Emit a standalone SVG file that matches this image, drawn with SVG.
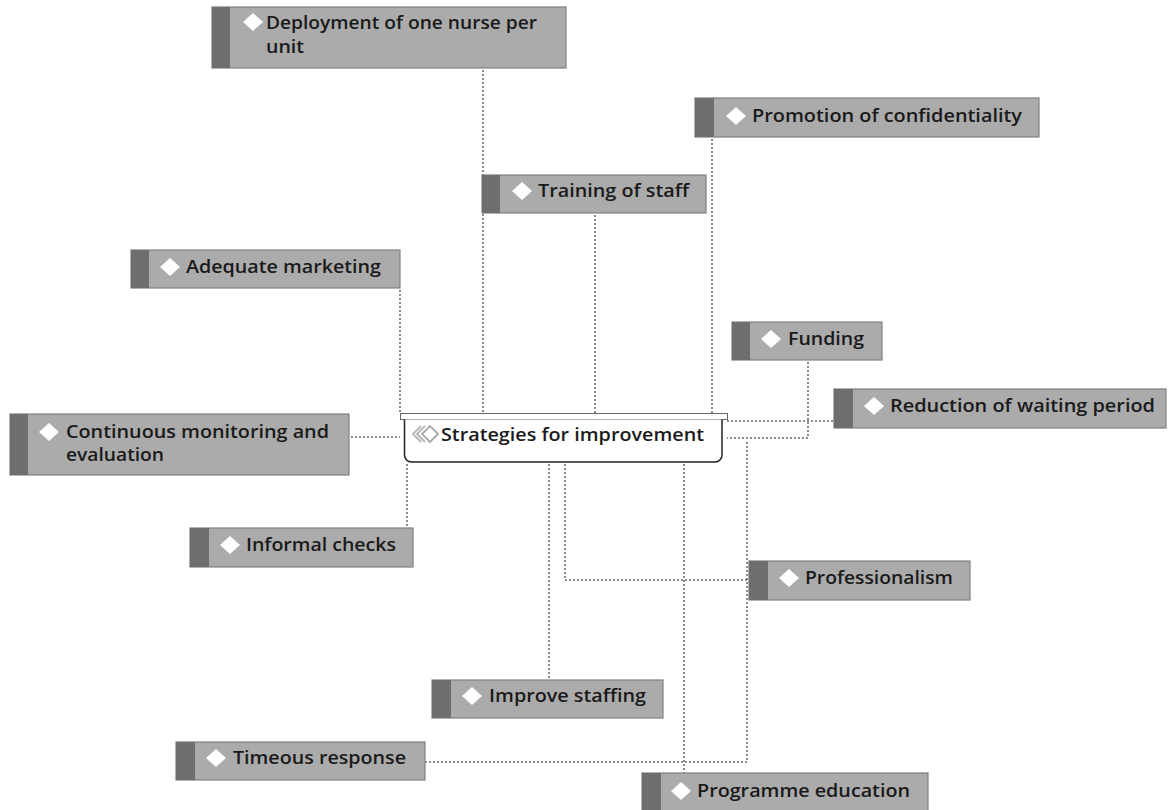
<svg xmlns="http://www.w3.org/2000/svg" width="1168" height="810" viewBox="0 0 1168 810">
<defs>
<style>
.box{fill:#ababab;stroke:#808080;stroke-width:1.2}
.strip{fill:#6e6e6e}
.dia{fill:#ffffff}
.t{font-family:"Open Sans","Liberation Sans",sans-serif;font-size:18px;font-weight:600;fill:#1a1a1a}
.c{fill:none;stroke:#666;stroke-width:1.5;stroke-dasharray:2 2}
</style>
</defs>
<rect width="1168" height="810" fill="#ffffff"/>
<g id="connectors">
<path class="c" d="M483 70V413"/>
<path class="c" d="M712 139V413"/>
<path class="c" d="M595 215V413"/>
<path class="c" d="M400 290V413"/>
<path class="c" d="M808 362V438H727"/>
<path class="c" d="M727 421H834"/>
<path class="c" d="M351 437H400"/>
<path class="c" d="M407 464V528"/>
<path class="c" d="M565 464V580H749"/>
<path class="c" d="M549 464V680"/>
<path class="c" d="M684 464V773"/>
<path class="c" d="M747 442V762H425"/>
</g>
<g id="center">
<rect x="400.5" y="413.5" width="327" height="6" fill="#fff" stroke="#666" stroke-width="1"/>
<path d="M404.5 419.5V455a7 7 0 0 0 7 7H715a7 7 0 0 0 7-7V419.5" fill="#fff" stroke="#222" stroke-width="1.5"/>
<path d="M421 426l-8 8 8 8 M425 426l-8 8 8 8" fill="none" stroke="#b5b5b5" stroke-width="1.8"/>
<path d="M430 426l-8 8 8 8 8-8z" fill="none" stroke="#a8a8a8" stroke-width="1.8"/>
<text class="t" x="441" y="441" textLength="263" lengthAdjust="spacingAndGlyphs">Strategies for improvement</text>
</g>
<g id="n-deployment">
<rect class="box" x="212" y="7" width="354" height="61"/><rect class="strip" x="212" y="7" width="18" height="61"/>
<path class="dia" d="M253 13l10 9-10 9-10-9z"/>
<text class="t" x="266" y="29" textLength="271" lengthAdjust="spacingAndGlyphs">Deployment of one nurse per</text>
<text class="t" x="266" y="53" textLength="38" lengthAdjust="spacingAndGlyphs">unit</text>
</g>
<g id="n-promotion">
<rect class="box" x="695" y="98" width="344" height="39"/><rect class="strip" x="695" y="98" width="19" height="39"/>
<path class="dia" d="M736 107l10 9-10 9-10-9z"/>
<text class="t" x="752" y="122" textLength="270" lengthAdjust="spacingAndGlyphs">Promotion of confidentiality</text>
</g>
<g id="n-training">
<rect class="box" x="482" y="175" width="224" height="38"/><rect class="strip" x="482" y="175" width="18" height="38"/>
<path class="dia" d="M522 182l10 9-10 9-10-9z"/>
<text class="t" x="538" y="197" textLength="151" lengthAdjust="spacingAndGlyphs">Training of staff</text>
</g>
<g id="n-marketing">
<rect class="box" x="131" y="250" width="269" height="38"/><rect class="strip" x="131" y="250" width="18" height="38"/>
<path class="dia" d="M170 258l10 9-10 9-10-9z"/>
<text class="t" x="186" y="273" textLength="195" lengthAdjust="spacingAndGlyphs">Adequate marketing</text>
</g>
<g id="n-funding">
<rect class="box" x="732" y="322" width="150" height="38"/><rect class="strip" x="732" y="322" width="18" height="38"/>
<path class="dia" d="M771 330l10 9-10 9-10-9z"/>
<text class="t" x="788" y="345" textLength="76" lengthAdjust="spacingAndGlyphs">Funding</text>
</g>
<g id="n-reduction">
<rect class="box" x="834" y="389" width="332" height="39"/><rect class="strip" x="834" y="389" width="19" height="39"/>
<path class="dia" d="M874 397l10 9-10 9-10-9z"/>
<text class="t" x="890" y="412" textLength="265" lengthAdjust="spacingAndGlyphs">Reduction of waiting period</text>
</g>
<g id="n-continuous">
<rect class="box" x="10" y="414" width="339" height="61"/><rect class="strip" x="10" y="414" width="18" height="61"/>
<path class="dia" d="M49 423l10 9-10 9-10-9z"/>
<text class="t" x="66" y="438" textLength="263" lengthAdjust="spacingAndGlyphs">Continuous monitoring and</text>
<text class="t" x="66" y="461" textLength="98" lengthAdjust="spacingAndGlyphs">evaluation</text>
</g>
<g id="n-informal">
<rect class="box" x="190" y="528" width="223" height="39"/><rect class="strip" x="190" y="528" width="19" height="39"/>
<path class="dia" d="M230 536l10 9-10 9-10-9z"/>
<text class="t" x="246" y="551" textLength="150" lengthAdjust="spacingAndGlyphs">Informal checks</text>
</g>
<g id="n-professionalism">
<rect class="box" x="749" y="561" width="221" height="39"/><rect class="strip" x="749" y="561" width="19" height="39"/>
<path class="dia" d="M789 569l10 9-10 9-10-9z"/>
<text class="t" x="805" y="584" textLength="148" lengthAdjust="spacingAndGlyphs">Professionalism</text>
</g>
<g id="n-staffing">
<rect class="box" x="432" y="680" width="231" height="38"/><rect class="strip" x="432" y="680" width="19" height="38"/>
<path class="dia" d="M472 687l10 9-10 9-10-9z"/>
<text class="t" x="489" y="702" textLength="157" lengthAdjust="spacingAndGlyphs">Improve staffing</text>
</g>
<g id="n-timeous">
<rect class="box" x="176" y="742" width="249" height="38"/><rect class="strip" x="176" y="742" width="19" height="38"/>
<path class="dia" d="M216 749l10 9-10 9-10-9z"/>
<text class="t" x="233" y="764" textLength="173" lengthAdjust="spacingAndGlyphs">Timeous response</text>
</g>
<g id="n-programme">
<rect class="box" x="642" y="773" width="286" height="38"/><rect class="strip" x="642" y="773" width="19" height="38"/>
<path class="dia" d="M681 782l10 9-10 9-10-9z"/>
<text class="t" x="697" y="797" textLength="213" lengthAdjust="spacingAndGlyphs">Programme education</text>
</g>
</svg>
